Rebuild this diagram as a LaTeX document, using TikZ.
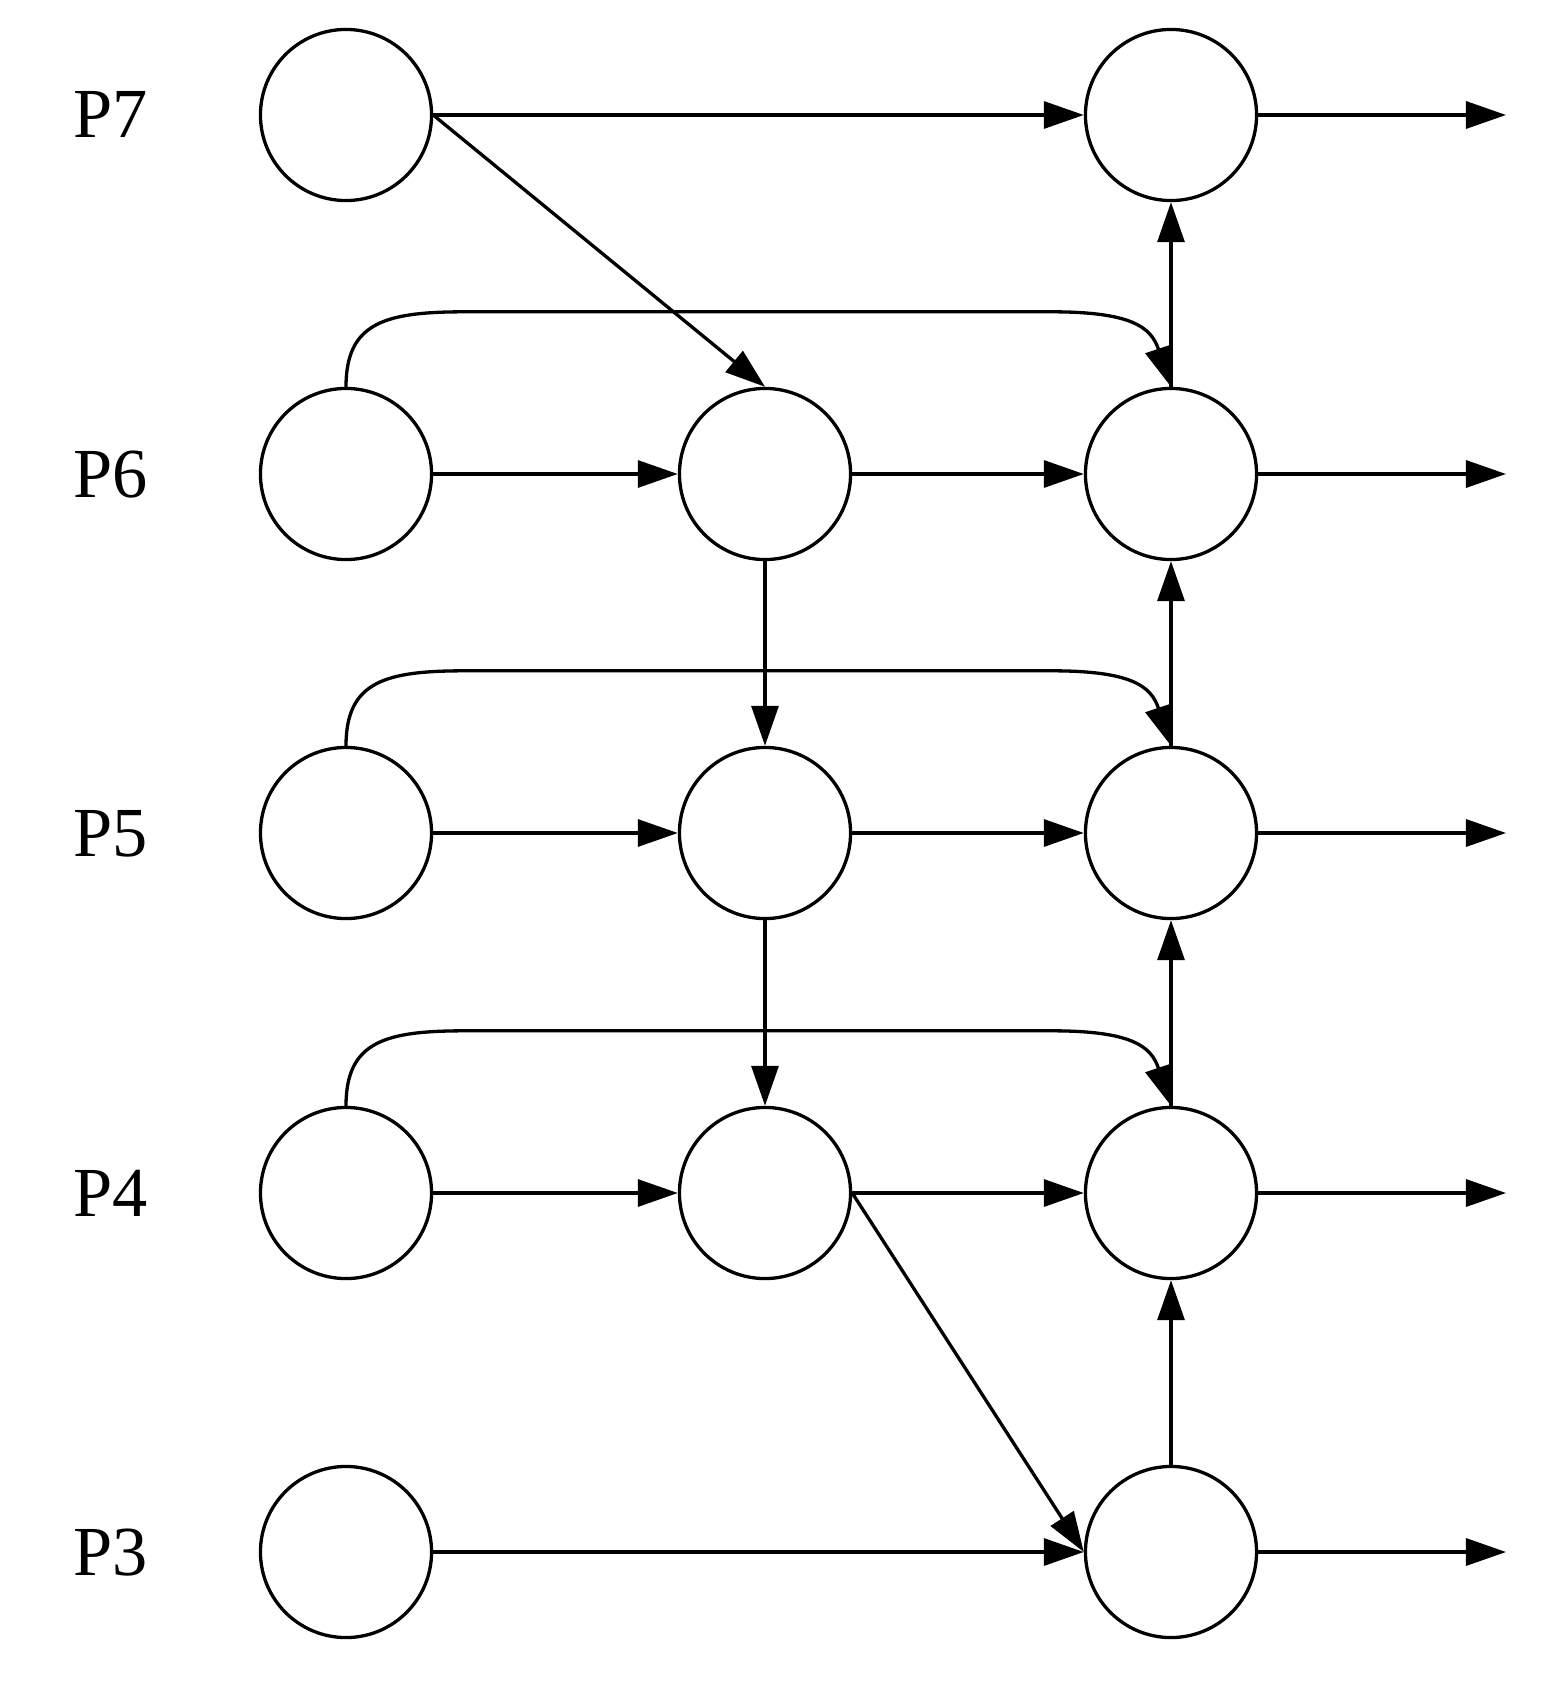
\documentclass[tikz,border=0pt]{standalone}
\usepackage{fontspec}
\setmainfont{Liberation Serif}
\usetikzlibrary{arrows.meta,calc}
\begin{document}
\begin{tikzpicture}[x=0.01cm,y=-0.01cm,
  line width=0.94pt,
  stage/.style={circle,draw,minimum size=1.71cm,inner sep=0pt},
  lbl/.style={anchor=base,inner sep=0pt,font=\fontsize{20}{24}\selectfont},
  arr/.style={-{Triangle[length=4mm,width=2.7mm]}}]
\useasboundingbox (0,0) rectangle (1542,1688);
% labels
\node[lbl] (t7) at (111,138) {P7};
\node[lbl] (t6) at (111,497) {P6};
\node[lbl] (t5) at (111,856) {P5};
\node[lbl] (t4) at (111,1216) {P4};
\node[lbl] (t3) at (111,1575) {P3};
% nodes
\node[stage] (L7) at (346,115) {};
\node[stage] (R7) at (1171,115) {};
\node[stage] (L6) at (346,474) {};
\node[stage] (M6) at (765,474) {};
\node[stage] (R6) at (1171,474) {};
\node[stage] (L5) at (346,833) {};
\node[stage] (M5) at (765,833) {};
\node[stage] (R5) at (1171,833) {};
\node[stage] (L4) at (346,1193) {};
\node[stage] (M4) at (765,1193) {};
\node[stage] (R4) at (1171,1193) {};
\node[stage] (L3) at (346,1552) {};
\node[stage] (R3) at (1171,1552) {};
% outputs
\coordinate (o7) at (1506,115);
\coordinate (o6) at (1506,474);
\coordinate (o5) at (1506,833);
\coordinate (o4) at (1506,1193);
\coordinate (o3) at (1506,1552);
% horizontal
\draw[arr] (L7) -- (R7);
\draw[arr] (L6) -- (M6);
\draw[arr] (M6) -- (R6);
\draw[arr] (L5) -- (M5);
\draw[arr] (M5) -- (R5);
\draw[arr] (L4) -- (M4);
\draw[arr] (M4) -- (R4);
\draw[arr] (L3) -- (R3);
\foreach \r in {7,6,5,4,3} {\draw[arr] (R\r) -- (o\r);}
% diagonals
\draw[arr] (L7.east) -- (M6.north);
\draw[arr] (M4.east) -- (R3.west);
% verticals
\draw[arr] (M6) -- (M5);
\draw[arr] (M5) -- (M4);
\draw[arr] (R6.north) -- (R7.south);
\draw[arr] (R5.north) -- (R6.south);
\draw[arr] (R4.north) -- (R5.south);
\draw[arr] (R3.north) -- (R4.south);
% curved skips
\foreach \r in {6,5,4} {
  \draw[arr] (L\r.north) .. controls +(0,-65) and +(-80,0) .. ($(L\r.north)+(120,-75)$)
    -- ($(R\r.north)+(-120,-75)$) .. controls +(80,0) and +(-20,-60) .. (R\r.north);
}
\end{tikzpicture}
\end{document}
